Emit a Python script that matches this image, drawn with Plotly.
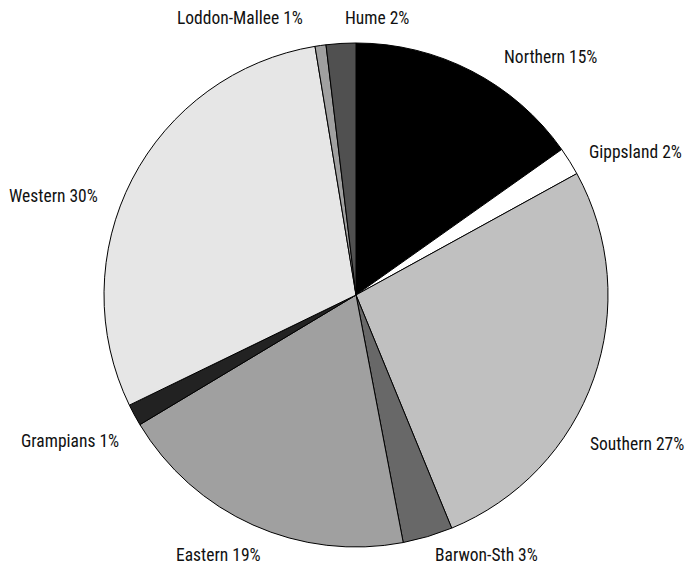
import plotly.graph_objects as go

regions = ["Northern", "Gippsland", "Southern", "Barwon-Sth", "Eastern",
           "Grampians", "Western", "Loddon-Mallee", "Hume"]
shares = [15.2, 1.8, 26.8, 3.2, 19.4, 1.4, 29.6, 0.7, 1.9]
colors = ["#000000", "#ffffff", "#c0c0c0", "#686868", "#a0a0a0",
          "#222222", "#e6e6e6", "#a0a0a0", "#505050"]

# label anchor points (pixels from top-left of the window) and anchoring side
label_px = [(502, 57), (587, 152), (588, 444), (433, 555), (263, 555),
            (121, 441), (100, 196), (305, 18), (343, 18)]
label_anchor = ["left", "left", "left", "left", "right",
                "right", "right", "right", "left"]

PAGE_MARGIN = 8          # default body margin of the html page
W, H = 698 - 2 * PAGE_MARGIN, 572 - 2 * PAGE_MARGIN
FONT = "Roboto Condensed, Liberation Sans Narrow, DejaVu Sans Condensed, sans-serif"

# pie geometry in window pixels
CX, CY, R = 356, 295, 252


def fx(px):
    return (px - PAGE_MARGIN) / W


def fy(py):
    return 1 - (py - PAGE_MARGIN) / H


fig = go.Figure(go.Pie(
    labels=regions,
    values=shares,
    sort=False,
    direction="clockwise",
    rotation=0,
    marker=dict(colors=colors, line=dict(color="#000000", width=1)),
    textinfo="none",
    hoverinfo="label+percent",
    domain=dict(x=[fx(CX - R), fx(CX + R)], y=[fy(CY + R), fy(CY - R)]),
))

total = sum(shares)
for name, val, (px, py), anc in zip(regions, shares, label_px, label_anchor):
    fig.add_annotation(
        x=fx(px), y=fy(py), xref="paper", yref="paper",
        xanchor=anc, yanchor="middle", showarrow=False,
        text=f"{name} {round(val / total * 100)}%",
        font=dict(family=FONT, size=17.5, color="#111111"),
    )

fig.update_layout(
    width=W, height=H,
    margin=dict(l=0, r=0, t=0, b=0),
    paper_bgcolor="#ffffff",
    plot_bgcolor="#ffffff",
    showlegend=False,
)

fig.write_html("out.html")
